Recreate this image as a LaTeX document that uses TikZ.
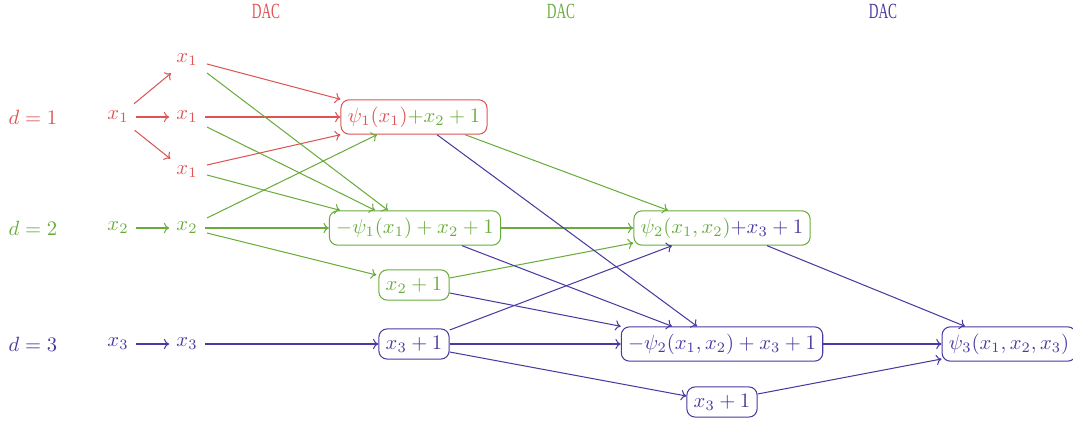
\documentclass[tikz,border=0pt]{standalone}
\usepackage{fontspec}
\newfontfamily\dacfont{Liberation Serif}
\usetikzlibrary{calc,arrows.meta}
\definecolor{cr}{RGB}{220,85,85}
\definecolor{cg}{RGB}{106,172,60}
\definecolor{cb}{RGB}{72,58,160}
\begin{document}
\begin{tikzpicture}[x=0.485pt,y=-0.485pt,
  box/.style={draw,rounded corners=4pt,line width=0.5pt,inner sep=3.33pt},
  lbl/.style={inner sep=3.33pt},
  ar/.style={-{To[length=2.6pt,width=5pt]},line width=0.5pt},
  dac/.style={inner sep=0pt}]
\useasboundingbox (0,0) rectangle (1073,421);
% headers
\node[dac,text=cr] (h1) at (266,11) {\scalebox{0.62}[1]{\dacfont\fontsize{10.5}{12}\selectfont DAC}};
\node[dac,text=cg] (h2) at (561,11) {\scalebox{0.62}[1]{\dacfont\fontsize{10.5}{12}\selectfont DAC}};
\node[dac,text=cb] (h3) at (883,11) {\scalebox{0.62}[1]{\dacfont\fontsize{10.5}{12}\selectfont DAC}};
% left labels
\node[lbl,text=cr] (d1) at (33,117) {$d=1$};
\node[lbl,text=cg] (d2) at (33,228) {$d=2$};
\node[lbl,text=cb] (d3) at (33,344) {$d=3$};
\node[lbl,text=cr] (x1L) at (118,117) {$x_1$};
\node[lbl,text=cg] (x2L) at (118,228) {$x_2$};
\node[lbl,text=cb] (x3L) at (118,344) {$x_3$};
\node[lbl,text=cr] (x1t) at (187,60) {$x_1$};
\node[lbl,text=cr] (x1m) at (187,117) {$x_1$};
\node[lbl,text=cr] (x1b) at (187,172) {$x_1$};
\node[lbl,text=cg] (x2) at (187,228) {$x_2$};
\node[lbl,text=cb] (x3) at (187,344) {$x_3$};
% boxes
\node[box,draw=cr] (A) at (414,117) {$\textcolor{cr}{\psi_1(x_1)}\textcolor{cg}{+x_2+1}$};
\node[box,draw=cg,text=cg] (B) at (415,228) {$-\psi_1(x_1)+x_2+1$};
\node[box,draw=cg,text=cg] (C) at (414,285) {$x_2+1$};
\node[box,draw=cb,text=cb] (D) at (414,344) {$x_3+1$};
\node[box,draw=cg] (E) at (722,228) {$\textcolor{cg}{\psi_2(x_1,x_2)}\textcolor{cb}{+x_3+1}$};
\node[box,draw=cb,text=cb] (F) at (722,344) {$-\psi_2(x_1,x_2)+x_3+1$};
\node[box,draw=cb,text=cb] (G) at (722,402) {$x_3+1$};
\node[box,draw=cb,text=cb] (H) at (1009,344) {$\psi_3(x_1,x_2,x_3)$};
% red
\draw[ar,cr] (x1L) -- (x1t);
\draw[ar,cr] (x1L) -- (x1m);
\draw[ar,cr] (x1L) -- (x1b);
\draw[ar,cr] ($(x1t)+(20,4)$) -- (A.north west);
\draw[ar,cr] (x1m) -- (A);
\draw[ar,cr] ($(x1b)+(20,-7)$) -- (A.south west);
% green
\draw[ar,cg] (x2L) -- (x2);
\draw[ar,cg] ($(x1t)+(20,13)$) -- ($(B.north)+(-27,0)$);
\draw[ar,cg] ($(x1m)+(20,10)$) -- ($(B.north)+(-40,0)$);
\draw[ar,cg] ($(x1b)+(20,3)$) -- ($(B.north)+(-75,0)$);
\draw[ar,cg] ($(x2)+(20,-10)$) -- ($(A.south)+(-37,0)$);
\draw[ar,cg] (x2) -- (B);
\draw[ar,cg] ($(x2)+(20,5)$) -- ($(C.west)+(-2,-10)$);
\draw[ar,cg] ($(A.south)+(51,0)$) -- ($(E.north)+(-54,0)$);
\draw[ar,cg] (B) -- (E);
\draw[ar,cg] ($(C.east)+(0,-7)$) -- ($(E.west)+(0,15)$);
% blue
\draw[ar,cb] (x3L) -- (x3);
\draw[ar,cb] (x3) -- (D);
\draw[ar,cb] ($(A.south)+(23,0)$) -- ($(F.north)+(-25,0)$);
\draw[ar,cb] ($(B.south)+(47,0)$) -- ($(F.north)+(-50,0)$);
\draw[ar,cb] ($(C.east)+(0,8)$) -- (F.north west);
\draw[ar,cb] ($(D.east)+(0,-14)$) -- ($(E.south)+(-50,0)$);
\draw[ar,cb] (D) -- (F);
\draw[ar,cb] ($(D.east)+(0,8)$) -- ($(G.west)+(0,-6)$);
\draw[ar,cb] ($(E.south)+(45,0)$) -- ($(H.north)+(-44,0)$);
\draw[ar,cb] (F) -- (H);
\draw[ar,cb] ($(G.east)+(0,-8)$) -- ($(H.west)+(0,15)$);
\end{tikzpicture}
\end{document}
